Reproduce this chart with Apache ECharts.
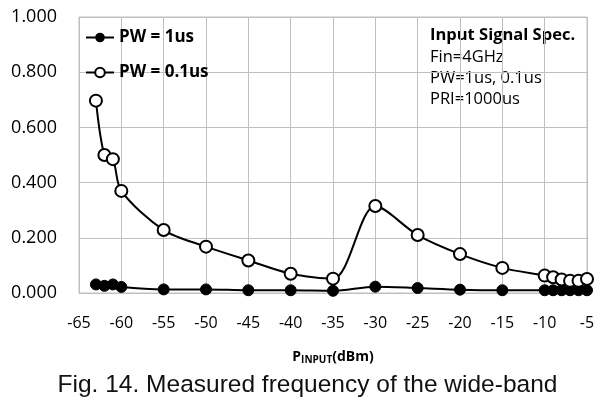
<!DOCTYPE html>
<html><head><meta charset="utf-8">
<script src="https://cdn.jsdelivr.net/npm/echarts@6/dist/echarts.min.js"></script>
<style>html,body{margin:0;padding:0;background:#fff}#c{width:615px;height:418px}</style>
</head><body><div id="c"></div>
<script>
const xInput = [-63, -62, -61, -60, -55, -50, -45, -40, -35, -30, -25, -20, -15, -10, -9, -8, -7, -6, -5];
const pw1us = [0.031, 0.026, 0.031, 0.022, 0.013, 0.013, 0.010, 0.010, 0.008, 0.023, 0.018, 0.012, 0.010, 0.010, 0.010, 0.010, 0.010, 0.010, 0.010];
const pw01us = [0.697, 0.500, 0.485, 0.370, 0.228, 0.168, 0.118, 0.070, 0.052, 0.315, 0.210, 0.141, 0.091, 0.063, 0.057, 0.049, 0.044, 0.044, 0.051];
const seriesNames = ['PW = 1us', 'PW = 0.1us'];
const specLines = ['Fin=4GHz', 'PW=1us, 0.1us', 'PRI=1000us'];

const font = '"Open Sans", "Noto Sans", sans-serif';
const chart = echarts.init(document.getElementById('c'), null, {renderer: 'canvas'});
chart.setOption({
  animation: false,
  backgroundColor: '#fff',
  textStyle: {fontFamily: font},
  grid: {left: 79, right: 28, top: 17, bottom: 125, show: true, borderColor: '#bfbfbf', borderWidth: 1},
  legend: {
    orient: 'vertical', left: 80, top: 24, itemGap: 18, itemWidth: 28, itemHeight: 12,
    textStyle: {fontFamily: font, fontSize: 17, fontWeight: 'bold', color: '#000'},
    data: seriesNames
  },
  xAxis: {
    type: 'value', min: -65, max: -5, interval: 5,
    axisLine: {show: false}, axisTick: {show: false},
    splitLine: {show: true, lineStyle: {color: '#bfbfbf', width: 1}},
    axisLabel: {fontFamily: font, fontSize: 16, color: '#000', margin: 22},
    name: '{p|P}{s|INPUT}{p|(dBm)}', nameLocation: 'middle', nameGap: 56,
    nameTextStyle: {rich: {
      p: {fontFamily: font, fontSize: 14, fontWeight: 'bold', color: '#000'},
      s: {fontFamily: font, fontSize: 10, fontWeight: 'bold', color: '#000', verticalAlign: 'bottom', padding: [6, 0, 0, 0]}
    }}
  },
  yAxis: {
    type: 'value', min: 0, max: 1, interval: 0.2,
    axisLine: {show: false}, axisTick: {show: false},
    splitLine: {show: true, lineStyle: {color: '#bfbfbf', width: 1}},
    axisLabel: {fontFamily: font, fontSize: 18, color: '#000', margin: 22, formatter: v => v.toFixed(3)}
  },
  graphic: [
    {type: 'text', left: 430, top: 27, style: {text: 'Input Signal Spec.', font: 'bold 16.5px ' + font, fill: '#000'}},
    {type: 'text', left: 430, top: 47, style: {text: specLines.join('\n'), font: '16.5px ' + font, lineHeight: 21, fill: '#000'}},
    {type: 'text', left: 'center', top: 373, style: {text: 'Fig. 14. Measured frequency of the wide-band', font: '24.5px "Liberation Sans", sans-serif', fill: '#111'}}
  ],
  series: [
    {
      name: seriesNames[0], type: 'line', smooth: 0.3,
      data: xInput.map((x, i) => [x, pw1us[i]]),
      symbol: 'circle', symbolSize: 11,
      lineStyle: {color: '#000', width: 2}, itemStyle: {color: '#000', borderColor: '#000'}
    },
    {
      name: seriesNames[1], type: 'line', smooth: 0.3,
      data: xInput.map((x, i) => [x, pw01us[i]]),
      symbol: 'emptyCircle', symbolSize: 12,
      lineStyle: {color: '#000', width: 2}, itemStyle: {color: '#000', borderColor: '#000', borderWidth: 1}
    }
  ]
});
</script></body></html>
